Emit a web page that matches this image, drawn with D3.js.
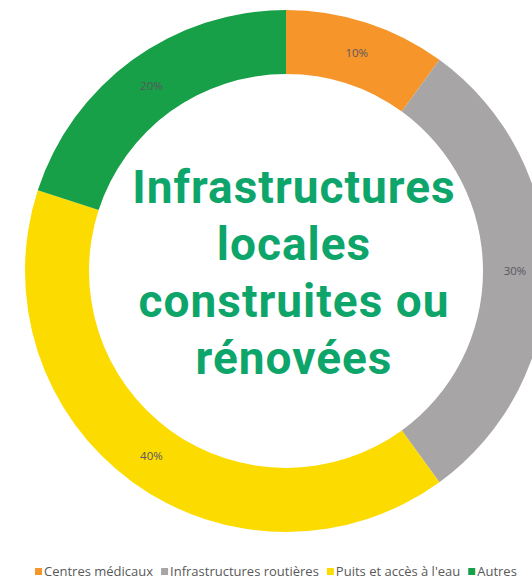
<!DOCTYPE html>
<head>
  <meta charset="utf-8">
  <script src="https://d3js.org/d3.v7.min.js"></script>
  <style>
    body { margin:0; background:#fff; overflow:hidden; }
  </style>
</head>
<body>
  <script>
    var categories = ['Centres médicaux', 'Infrastructures routières', "Puits et accès à l'eau", 'Autres'];
    var values = [10, 30, 40, 20];
    var colors = ['#f5952a', '#a7a5a6', '#fcdb00', '#17a047'];
    var titleLines = ['Infrastructures', 'locales', 'construites ou', 'rénovées'];

    var width = 532,
        height = 581,
        cx = 286, cy = 271,
        outerR = 261,
        innerR = 197;

    var data = categories.map(function(c, i) {
      return {name: c, value: values[i], color: colors[i]};
    });

    var svg = d3.select('body').append('svg')
      .attr('width', width)
      .attr('height', height);

    var arc = d3.arc().outerRadius(outerR).innerRadius(innerR);
    var labelArc = d3.arc().outerRadius(229).innerRadius(229);

    var pie = d3.pie().sort(null).value(function(d) { return d.value; });
    var total = d3.sum(values);

    var g = svg.append('g')
      .attr('transform', 'translate(' + cx + ',' + cy + ')');

    var slices = g.selectAll('.arc')
      .data(pie(data))
      .enter().append('g');

    slices.append('path')
      .attr('d', arc)
      .style('fill', function(d) { return d.data.color; });

    slices.append('text')
      .attr('transform', function(d) { return 'translate(' + labelArc.centroid(d) + ')'; })
      .attr('dy', '.35em')
      .style('text-anchor', 'middle')
      .style('font-family', 'Open Sans, sans-serif')
      .style('font-size', '11.5px')
      .style('fill', '#5a5560')
      .text(function(d) { return Math.round(d.data.value / total * 100) + '%'; });

    // centre title
    svg.append('text')
      .attr('text-anchor', 'middle')
      .style('font-family', 'Roboto, sans-serif')
      .style('font-weight', 'bold')
      .style('font-size', '46px')
      .style('letter-spacing', '1px')
      .style('fill', '#0ea56b')
      .selectAll('tspan')
      .data(titleLines)
      .enter().append('tspan')
      .attr('x', 294)
      .attr('y', function(d, i) { return 203 + i * 57; })
      .text(function(d) { return d; });

    // legend
    var legend = svg.append('g').attr('transform', 'translate(35,576)');
    var x = 0;
    data.forEach(function(d) {
      var item = legend.append('g').attr('transform', 'translate(' + x + ',0)');
      item.append('rect')
        .attr('y', -8).attr('width', 7).attr('height', 7)
        .style('fill', d.color);
      var t = item.append('text')
        .attr('x', 9)
        .style('font-family', 'Open Sans, sans-serif')
        .style('font-size', '13px')
        .style('fill', '#595959')
        .text(d.name);
      x += 9 + t.node().getComputedTextLength() + 8;
    });
  </script>
</body>
